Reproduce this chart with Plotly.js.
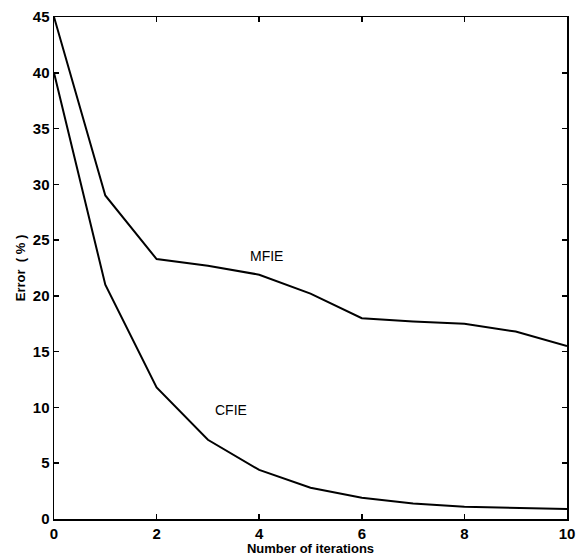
<!DOCTYPE html>
<html><head><meta charset="utf-8">
<script src="https://cdn.plot.ly/plotly-3.0.1.min.js"></script>
<style>html,body{margin:0;padding:0;background:#fff}</style>
</head><body>
<div id="chart" style="width:580px;height:559px"></div>
<script>
const iterations = [0,1,2,3,4,5,6,7,8,9,10];
const mfie = [45,29.0,23.3,22.7,21.9,20.2,18.0,17.7,17.5,16.8,15.5];
const cfie = [40,21.0,11.8,7.1,4.4,2.8,1.9,1.4,1.1,1.0,0.9];
const xTicks = [0,2,4,6,8,10];
const yTicks = [0,5,10,15,20,25,30,35,40,45];

const font = {family:'Liberation Sans, Arial, sans-serif', size:14, color:'#000'};
const traces = [
  {x: iterations, y: mfie, mode:'lines', line:{color:'#000', width:2}, name:'MFIE'},
  {x: iterations, y: cfie, mode:'lines', line:{color:'#000', width:2}, name:'CFIE'}
];
const axisCommon = {showgrid:false, zeroline:false, showline:true, linecolor:'#000', linewidth:1.5,
  mirror:'ticks', ticks:'inside', ticklen:5, tickcolor:'#000', tickwidth:1.5,
  tickfont:{family:font.family, size:15, color:'#000', weight:'bold'}};
const layout = {
  width:580, height:559,
  margin:{l:54, r:13, t:17, b:40},
  paper_bgcolor:'#fff', plot_bgcolor:'#fff',
  showlegend:false,
  font: font,
  xaxis: Object.assign({}, axisCommon, {range:[0,10], tickvals:xTicks, ticktext:xTicks.map(String),
    title:{text:'<b>Number of iterations</b>', standoff:2, font:{family:font.family, size:13, color:'#000'}}}),
  yaxis: Object.assign({}, axisCommon, {range:[0,45], tickvals:yTicks, ticktext:yTicks.map(String),
    title:{text:'<b>Error  ( % )</b>', standoff:4, font:{family:font.family, size:13, color:'#000'}}}),
  annotations:[
    {x:4.15, y:23.6, text:'MFIE', showarrow:false, font:{family:font.family, size:14, color:'#000'}},
    {x:3.45, y:9.8, text:'CFIE', showarrow:false, font:{family:font.family, size:14, color:'#000'}}
  ]
};
Plotly.newPlot('chart', traces, layout, {displayModeBar:false, staticPlot:true});
</script>
</body></html>
